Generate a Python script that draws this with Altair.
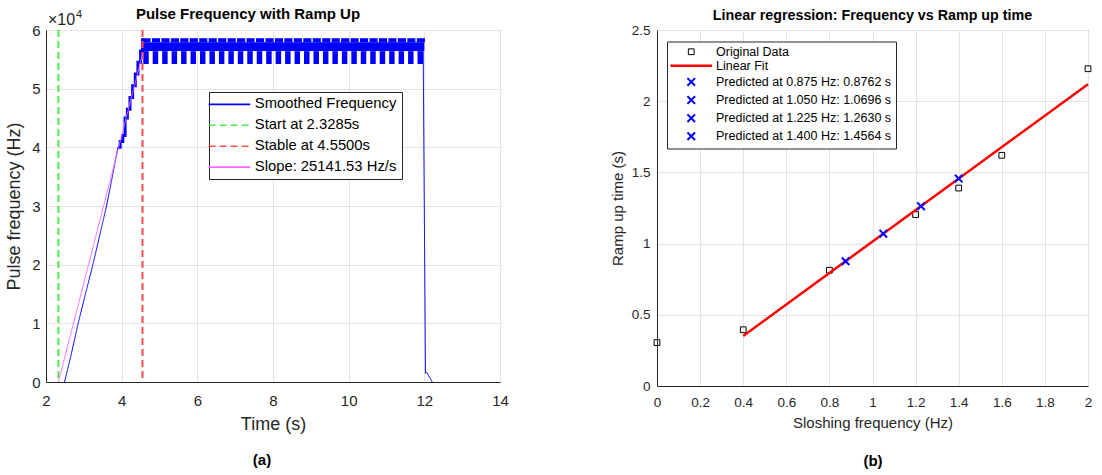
import altair as alt
import pandas as pd

FONT = "Liberation Sans"

# ---------------- Panel (a): pulse frequency with ramp up ----------------
time_ticks = [2, 4, 6, 8, 10, 12, 14]
freq_ticks = [0, 10000, 20000, 30000, 40000, 50000, 60000]

ramp_t = [2.49, 2.66, 2.85, 3.05, 3.24, 3.42, 3.60, 3.76, 3.90]
ramp_f = [0, 4500, 10000, 15200, 20000, 25000, 30000, 35200, 40000]

stair_t = [3.90, 3.96, 4.03, 4.09, 4.15, 4.22, 4.29, 4.36, 4.43, 4.50, 4.55]
stair_f = [40000, 41000, 42000, 45000, 46500, 48500, 50500, 52500, 54500, 56400, 58600]

drop_t = [11.97, 12.03, 12.07, 12.12, 12.21]
drop_f = [56400, 1500, 1600, 1000, 0]

cycle_start = [4.55, 4.80, 5.05, 5.30, 5.55, 5.80, 6.05, 6.30, 6.55, 6.80,
               7.05, 7.30, 7.55, 7.80, 8.05, 8.30, 8.55, 8.80, 9.05, 9.30,
               9.55, 9.80, 10.05, 10.30, 10.55, 10.80, 11.05, 11.30, 11.55, 11.80]
plateau_levels = [54200, 56400, 57900, 58600]   # low, mid, notch, top
plateau_end = 12.0

slope_t = [2.3285, 4.55]
slope_f = [0, 55850]

marker_t = [2.3285, 4.55]

series_a = ["Smoothed Frequency", "Start at 2.3285s", "Stable at 4.5500s",
            "Slope: 25141.53 Hz/s"]
colors_a = ["#0000FF", "#4CEB4C", "#FF4D4D", "#FF66FF"]
dashes_a = [[1, 0], [7, 4], [7, 4], [1, 0]]

# ---------------- Panel (b): linear regression ----------------
slosh_ticks = [0, 0.2, 0.4, 0.6, 0.8, 1.0, 1.2, 1.4, 1.6, 1.8, 2.0]
ramp_ticks = [0, 0.5, 1.0, 1.5, 2.0, 2.5]

orig_x = [0, 0.4, 0.8, 1.2, 1.4, 1.6, 2.0]
orig_y = [0.305, 0.395, 0.813, 1.204, 1.39, 1.62, 2.228]

fit_x = [0.4, 2.0]
fit_y = [0.3513, 2.1195]

pred_x = [0.875, 1.050, 1.225, 1.400]
pred_y = [0.8762, 1.0696, 1.2630, 1.4564]

series_b = ["Original Data", "Linear Fit",
            "Predicted at 0.875 Hz: 0.8762 s",
            "Predicted at 1.050 Hz: 1.0696 s",
            "Predicted at 1.225 Hz: 1.2630 s",
            "Predicted at 1.400 Hz: 1.4564 s"]
SQUARE = "M-0.72,-0.72H0.72V0.72H-0.72Z"
LINE = "M-5.2,0H5.2"
XMARK = "M-0.95,-0.95L0.95,0.95M-0.95,0.95L0.95,-0.95"
shapes_b = [SQUARE, LINE, XMARK, XMARK, XMARK, XMARK]
colors_b = ["#000000", "#FF0000", "#0000FF", "#0000FF", "#0000FF", "#0000FF"]
widths_b = [1, 2.5, 2, 2, 2, 2]

# ================= build tables =================
blue_df = pd.DataFrame({
    "t": ramp_t + drop_t,
    "f": ramp_f + drop_f,
    "seg": ["ramp"] * len(ramp_t) + ["drop"] * len(drop_t),
    "sa": series_a[0],
})
stair_df = pd.DataFrame({"t": stair_t, "f": stair_f})
low, mid, notch, top = plateau_levels
rect_rows = []
for s in cycle_start:
    rect_rows.append({"t": s, "t2": s + 0.215, "f": notch, "f2": top})
    rect_rows.append({"t": s + 0.02, "t2": s + 0.165, "f": low, "f2": mid})
rect_rows.append({"t": cycle_start[0], "t2": plateau_end, "f": mid, "f2": notch})
rect_df = pd.DataFrame(rect_rows)
marker_df = pd.DataFrame({"t": marker_t, "sa": series_a[1:3]})
slope_df = pd.DataFrame({"t": slope_t, "f": slope_f, "sa": series_a[3]})

orig_df = pd.DataFrame({"x": orig_x, "y": orig_y, "sb": series_b[0]})
fit_df = pd.DataFrame({"x": fit_x, "y": fit_y})
pred_df = pd.DataFrame({"x": pred_x, "y": pred_y, "sb": series_b[2:]})

# ================= panel (a) =================
WA, HA = 454, 352


def xa(field="t"):
    return alt.X(f"{field}:Q", scale=alt.Scale(domain=[2, 14], nice=False),
                 axis=alt.Axis(title="Time (s)", values=time_ticks, labelFontSize=15,
                               titleFontSize=18, labelPadding=11, titlePadding=7))


def ya(field="f"):
    return alt.Y(f"{field}:Q", scale=alt.Scale(domain=[0, 60000], nice=False),
                 axis=alt.Axis(title="Pulse frequency (Hz)", values=freq_ticks,
                               labelExpr="datum.value / 10000", labelFontSize=15,
                               titleFontSize=18, labelPadding=6, titlePadding=8))


legend_a = alt.Legend(orient="none", legendX=163, legendY=62, title=None,
                      symbolType=LINE, symbolSize=64, symbolStrokeWidth=1.6,
                      labelFontSize=14.8, labelFont=FONT, labelColor="#000000",
                      rowPadding=4.9, padding=5, symbolOffset=8, labelOffset=18,
                      strokeColor="#262626", fillColor="white", labelLimit=0)
color_a = alt.Color("sa:N", scale=alt.Scale(domain=series_a, range=colors_a),
                    legend=legend_a)
dash_a = alt.StrokeDash("sa:N", scale=alt.Scale(domain=series_a, range=dashes_a),
                        legend=legend_a)

rects = alt.Chart(rect_df).mark_rect(color="#0000FF").encode(
    x=xa("t"), x2="t2:Q", y=ya("f"), y2="f2:Q")
stairs = alt.Chart(stair_df).mark_line(color="#0000FF", strokeWidth=3,
                                       interpolate="step-after").encode(x=xa(), y=ya())
blue = alt.Chart(blue_df).mark_line(strokeWidth=1).encode(
    x=xa(), y=ya(), detail="seg:N", color=color_a, strokeDash=dash_a)
markers = alt.Chart(marker_df).mark_rule(strokeWidth=2).encode(
    x=xa(), color=color_a, strokeDash=dash_a)
slope = alt.Chart(slope_df).mark_line(strokeWidth=1).encode(
    x=xa(), y=ya(), color=color_a, strokeDash=dash_a)

exp_base = alt.Chart(pd.DataFrame({"txt": ["\u00d710"]})).mark_text(
    fontSize=16, align="left", baseline="alphabetic", color="#262626").encode(
    text="txt:N", x=alt.value(2), y=alt.value(-5))
exp_pow = alt.Chart(pd.DataFrame({"txt": ["4"]})).mark_text(
    fontSize=11, align="left", baseline="alphabetic", color="#262626").encode(
    text="txt:N", x=alt.value(30), y=alt.value(-12))
cap_a = alt.Chart(pd.DataFrame({"txt": ["(a)"]})).mark_text(
    fontSize=15, fontWeight="bold", align="center", baseline="middle", color="black").encode(
    text="txt:N", x=alt.value(216), y=alt.value(430))

panel_a = alt.layer(rects, stairs, blue, markers, slope, exp_base, exp_pow, cap_a).properties(
    width=WA, height=HA,
    title=alt.TitleParams("Pulse Frequency with Ramp Up", fontSize=15, offset=-13, dx=-25))

# ================= panel (b) =================
WB, HB = 431, 356


def xb():
    return alt.X("x:Q", scale=alt.Scale(domain=[0, 2], nice=False),
                 axis=alt.Axis(title="Sloshing frequency (Hz)", values=slosh_ticks,
                               format="~g", labelFontSize=13.5, titleFontSize=15,
                               labelPadding=9, titlePadding=7))


def yb():
    return alt.Y("y:Q", scale=alt.Scale(domain=[0, 2.5], nice=False),
                 axis=alt.Axis(title="Ramp up time (s)", values=ramp_ticks, format="~g",
                               labelFontSize=13.5, titleFontSize=15, labelPadding=7,
                               titlePadding=6))


legend_b = alt.Legend(orient="none", legendX=10, legendY=11.5, title=None,
                      symbolSize=64, labelFontSize=12.5, labelFont=FONT,
                      labelColor="#000000", rowPadding=1.1, padding=4,
                      symbolOffset=14, labelOffset=18.5, strokeColor="#262626",
                      fillColor="white", labelLimit=0)
shape_b = alt.Shape("sb:N", scale=alt.Scale(domain=series_b, range=shapes_b),
                    legend=legend_b)
color_b = alt.Color("sb:N", scale=alt.Scale(domain=series_b, range=colors_b),
                    legend=legend_b)
width_b = alt.StrokeWidth("sb:N", scale=alt.Scale(type="ordinal", domain=series_b,
                                                  range=widths_b),
                          legend=legend_b)

squares = alt.Chart(orig_df).mark_point(filled=False, size=64, opacity=1).encode(
    x=xb(), y=yb(), shape=shape_b, color=color_b, strokeWidth=width_b)
fit = alt.Chart(fit_df).mark_line(color="#FF0000", strokeWidth=2.5).encode(x=xb(), y=yb())
crosses = alt.Chart(pred_df).mark_point(filled=False, size=64, opacity=1).encode(
    x=xb(), y=yb(), shape=shape_b, color=color_b, strokeWidth=width_b)
cap_b = alt.Chart(pd.DataFrame({"txt": ["(b)"]})).mark_text(
    fontSize=15, fontWeight="bold", align="center", baseline="middle", color="black").encode(
    text="txt:N", x=alt.value(216), y=alt.value(430.5))

panel_b = alt.layer(squares, fit, crosses, cap_b).properties(
    width=WB, height=HB,
    title=alt.TitleParams("Linear regression: Frequency vs Ramp up time", fontSize=14.3,
                          offset=0))

chart = alt.hconcat(panel_a, panel_b, spacing=100).resolve_scale(
    color="independent", strokeDash="independent", shape="independent",
    strokeWidth="independent"
).resolve_legend(
    color="independent", strokeDash="independent", shape="independent",
    strokeWidth="independent"
).configure_axis(
    domainColor="#262626", gridColor="#e3e3e3", labelColor="#262626",
    titleColor="#262626", titleFontWeight="normal", ticks=False, labelFont=FONT,
    titleFont=FONT, labelFlush=False, labelOverlap=False, grid=True
).configure_view(stroke="#8a8a8a").configure_title(
    font=FONT, color="black", fontWeight="bold", anchor="middle"
).configure_text(font=FONT).properties(
    background="white", padding={"left": 5, "top": 6, "right": 5, "bottom": 0})

chart.save("out.html", embed_options={"renderer": "svg", "actions": False})
